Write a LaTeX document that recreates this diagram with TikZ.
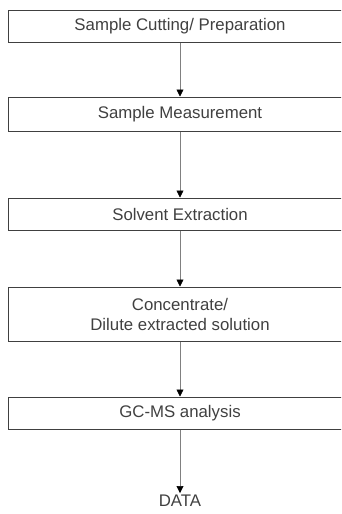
\documentclass[tikz,border=0pt]{standalone}
\usepackage{fontspec}
\setmainfont{Liberation Sans}
\usetikzlibrary{arrows.meta}
\begin{document}
\begin{tikzpicture}[x=1pt,y=-1pt,
  stepbox/.style={draw=black!75, line width=1pt, minimum width=344pt, inner sep=0pt,
    text=black!75, font=\fontsize{16.8}{20}\selectfont, align=center},
  endlabel/.style={text=black!75, font=\fontsize{16.8}{20}\selectfont, inner sep=2pt},
  flow/.style={draw=black!50, line width=0.6pt,
    -{Triangle[width=7pt,length=7pt,color=black]}}]
\useasboundingbox (0,0) rectangle (341,514);
\clip (0,0) rectangle (341,514);
% process steps
\node[stepbox, minimum height=32pt] (b1) at (180,26) {Sample Cutting/ Preparation};
\node[stepbox, minimum height=34pt] (b2) at (180,114) {Sample Measurement};
\node[stepbox, minimum height=32pt] (b3) at (180,214) {Solvent Extraction};
\node[stepbox, minimum height=54pt] (b4) at (180,314) {Concentrate/\\Dilute extracted solution};
\node[stepbox, minimum height=32pt] (b5) at (180,413) {GC-MS analysis};
\node[endlabel] (data) at (180,501) {DATA};
% connectors
\draw[flow] (b1) -- (b2);
\draw[flow] (b2) -- (b3);
\draw[flow] (b3) -- (b4);
\draw[flow] (b4) -- (b5);
\draw[flow] (b5) -- (data);
\end{tikzpicture}
\end{document}
